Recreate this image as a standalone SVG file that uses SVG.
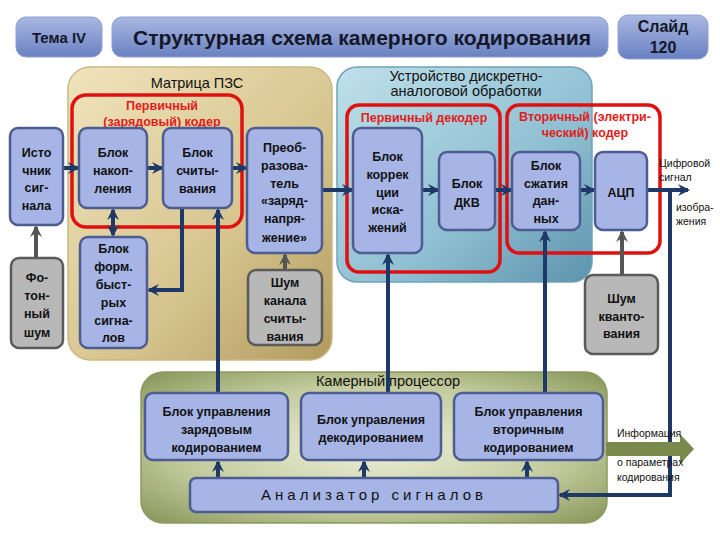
<svg xmlns="http://www.w3.org/2000/svg" width="720" height="540" viewBox="0 0 720 540">
<defs>
<linearGradient id="hdr" x1="0" y1="0" x2="0" y2="1"><stop offset="0" stop-color="#a9b8e2"/><stop offset="1" stop-color="#6a80c2"/></linearGradient>
<linearGradient id="beige" x1="0" y1="0" x2="1" y2="1"><stop offset="0" stop-color="#f0e4bc"/><stop offset="0.6" stop-color="#d6c48e"/><stop offset="1" stop-color="#b09a5e"/></linearGradient>
<linearGradient id="teal" x1="0" y1="0" x2="1" y2="1"><stop offset="0" stop-color="#bfe0ea"/><stop offset="0.6" stop-color="#8fbfd2"/><stop offset="1" stop-color="#5d93ad"/></linearGradient>
<radialGradient id="green" cx="0.5" cy="0.5" r="0.7"><stop offset="0" stop-color="#eef0da"/><stop offset="0.6" stop-color="#c2ca9c"/><stop offset="1" stop-color="#869558"/></radialGradient>
<marker id="ah" viewBox="0 0 12 12" markerWidth="12" markerHeight="12" refX="10" refY="6" orient="auto-start-reverse" markerUnits="userSpaceOnUse"><path d="M0,0 L12,6 L0,12 L4,6 z" fill="#1e3868"/></marker>
<marker id="ahg" viewBox="0 0 12 12" markerWidth="12" markerHeight="12" refX="10" refY="6" orient="auto" markerUnits="userSpaceOnUse"><path d="M0,0 L12,6 L0,12 L4,6 z" fill="#555"/></marker>
</defs>
<style>
.hb{fill:url(#hdr);stroke:#8fa0d0;stroke-width:1}
.ht{font-family:"Liberation Sans",Arial,sans-serif;font-weight:bold;fill:#141828;text-anchor:middle}
.nb{fill:#a6b5e5;stroke:#4d5d92;stroke-width:2.5}
.gb{fill:#b8b8b8;stroke:#5a5a5a;stroke-width:2.5}
.t{font-family:"Liberation Sans",Arial,sans-serif;font-weight:bold;font-size:12.5px;fill:#111;text-anchor:middle}
.rt{font-family:"Liberation Sans",Arial,sans-serif;font-weight:bold;font-size:12.5px;fill:#e02020;text-anchor:middle}
.gt{font-family:"Liberation Sans",Arial,sans-serif;font-size:14.5px;fill:#111;text-anchor:middle}
.st{font-family:"Liberation Sans",Arial,sans-serif;font-size:10.5px;fill:#111}
.red{fill:none;stroke:#e01010;stroke-width:3.5}
.c{fill:none;stroke:#1e3868;stroke-width:4;marker-end:url(#ah)}
.cg{fill:none;stroke:#555;stroke-width:4;marker-end:url(#ahg)}
</style>

<g id="header">
<rect class="hb" x="16" y="17" width="86" height="40" rx="10"/>
<text class="ht" x="59" y="43" font-size="15">Тема IV</text>
<rect class="hb" x="112" y="17" width="496" height="40" rx="10"/>
<text class="ht" x="362" y="45" font-size="20.5" textLength="458" lengthAdjust="spacingAndGlyphs">Структурная схема камерного кодирования</text>
<rect class="hb" x="618" y="15" width="90" height="44" rx="10"/>
<text class="ht" x="663" y="32" font-size="16">Слайд</text>
<text class="ht" x="663" y="53" font-size="16">120</text>
</g>

<g id="containers">
<rect x="68" y="67" width="264" height="293" rx="22" fill="url(#beige)" stroke="#c9b985" stroke-width="1.5"/>
<text class="gt" x="197" y="88">Матрица ПЗС</text>
<rect x="337" y="67" width="255" height="215" rx="20" fill="url(#teal)" stroke="#6fa3bb" stroke-width="1.5"/>
<text class="gt" x="466" y="81" font-size="14">Устройство дискретно-</text>
<text class="gt" x="466" y="96" font-size="14">аналоговой обработки</text>
<rect x="141" y="372" width="466" height="151" rx="22" fill="url(#green)" stroke="#8a9a60" stroke-width="1.5"/>
<text class="gt" x="388" y="386">Камерный  процессор</text>
</g>

<g id="red-groups">
<rect class="red" x="72" y="95" width="170" height="132" rx="14"/>
<text class="rt" x="162" y="110">Первичный</text>
<text class="rt" x="162" y="126">(зарядовый) кодер</text>
<rect class="red" x="347" y="105" width="153" height="167" rx="12"/>
<text class="rt" x="424" y="122">Первичный декодер</text>
<rect class="red" x="507" y="105" width="153" height="148" rx="12"/>
<text class="rt" x="585" y="121">Вторичный (электри-</text>
<text class="rt" x="585" y="137">ческий) кодер</text>
</g>

<g id="connectors">
<path class="c" d="M63,168 H78"/>
<path class="c" d="M147,168 H162"/>
<path class="c" d="M232,168 H246"/>
<path class="c" d="M113,210 V235" marker-start="url(#ah)"/>
<path class="cg" d="M36,258 V227"/>
<path class="c" d="M182,208 V290 H149"/>
<path class="c" d="M218,393 V210"/>
<path class="c" d="M322,190 H352"/>
<path class="c" d="M422,190 H438"/>
<path class="c" d="M495,190 H511"/>
<path class="c" d="M580,190 H594"/>
<path class="c" d="M647,190 H688"/>
<path class="c" d="M388,393 V255"/>
<path class="c" d="M545,393 V232"/>
<path class="cg" d="M622,275 V232"/>
<path class="cg" d="M285,270 V255"/>
<path class="c" d="M670,190 V495 H560"/>
<path class="c" d="M218,478 V462"/>
<path class="c" d="M364,478 V462"/>
<path class="c" d="M527,478 V462"/>
<polygon points="606,442 680,442 680,434 694,449 680,464 680,456 606,456" fill="#7a8a4c"/>
</g>

<g id="n-source"><rect class="nb" x="10" y="128" width="53" height="97" rx="8"/>
<text class="t" x="36.5" y="157">Исто</text><text class="t" x="36.5" y="175">чник</text><text class="t" x="36.5" y="192">сиг-</text><text class="t" x="36.5" y="210">нала</text></g>

<g id="n-photon"><rect class="gb" x="11" y="258" width="52" height="90" rx="8"/>
<text class="t" x="37" y="282">Фо-</text><text class="t" x="37" y="300">тон-</text><text class="t" x="37" y="318">ный</text><text class="t" x="37" y="337">шум</text></g>

<g id="n-accum"><rect class="nb" x="79" y="128" width="68" height="80" rx="8"/>
<text class="t" x="113" y="157">Блок</text><text class="t" x="113" y="175">накоп-</text><text class="t" x="113" y="193">ления</text></g>

<g id="n-read"><rect class="nb" x="163" y="128" width="69" height="80" rx="8"/>
<text class="t" x="197.5" y="157">Блок</text><text class="t" x="197.5" y="175">считы-</text><text class="t" x="197.5" y="193">вания</text></g>

<g id="n-form"><rect class="nb" x="80" y="237" width="67" height="111" rx="8"/>
<text class="t" x="113.5" y="253">Блок</text><text class="t" x="113.5" y="271">форм.</text><text class="t" x="113.5" y="289">быст-</text><text class="t" x="113.5" y="307">рых</text><text class="t" x="113.5" y="325">сигна-</text><text class="t" x="113.5" y="342">лов</text></g>

<g id="n-conv"><rect class="nb" x="247" y="128" width="75" height="125" rx="8"/>
<text class="t" x="284.5" y="152">Преоб-</text><text class="t" x="284.5" y="170">разова-</text><text class="t" x="284.5" y="188">тель</text><text class="t" x="284.5" y="205">«заряд-</text><text class="t" x="284.5" y="223">напря-</text><text class="t" x="284.5" y="242">жение»</text></g>

<g id="n-readnoise"><rect class="gb" x="248" y="270" width="74" height="75" rx="8"/>
<text class="t" x="285" y="287">Шум</text><text class="t" x="285" y="305">канала</text><text class="t" x="285" y="323">считы-</text><text class="t" x="285" y="341">вания</text></g>

<g id="n-corr"><rect class="nb" x="353" y="128" width="69" height="125" rx="8"/>
<text class="t" x="387.5" y="161">Блок</text><text class="t" x="387.5" y="179">коррек</text><text class="t" x="387.5" y="197">ции</text><text class="t" x="387.5" y="214">иска-</text><text class="t" x="387.5" y="232">жений</text></g>

<g id="n-dct"><rect class="nb" x="439" y="152" width="56" height="78" rx="8"/>
<text class="t" x="467" y="188">Блок</text><text class="t" x="467" y="207">ДКВ</text></g>

<g id="n-compress"><rect class="nb" x="512" y="152" width="68" height="78" rx="8"/>
<text class="t" x="546" y="170">Блок</text><text class="t" x="546" y="188">сжатия</text><text class="t" x="546" y="205">дан-</text><text class="t" x="546" y="223">ных</text></g>

<g id="n-adc"><rect class="nb" x="595" y="152" width="52" height="78" rx="8"/>
<text class="t" x="621" y="197">АЦП</text></g>

<g id="n-qnoise"><rect class="gb" x="585" y="275" width="73" height="79" rx="8"/>
<text class="t" x="621.5" y="303">Шум</text><text class="t" x="621.5" y="321">кванто-</text><text class="t" x="621.5" y="338">вания</text></g>

<g id="n-ctl1"><rect class="nb" x="145" y="393" width="143" height="67" rx="8"/>
<text class="t" x="216.5" y="416">Блок управления</text><text class="t" x="216.5" y="434">зарядовым</text><text class="t" x="216.5" y="452">кодированием</text></g>

<g id="n-ctl2"><rect class="nb" x="301" y="393" width="140" height="67" rx="8"/>
<text class="t" x="371" y="424">Блок управления</text><text class="t" x="371" y="442">декодированием</text></g>

<g id="n-ctl3"><rect class="nb" x="454" y="393" width="149" height="67" rx="8"/>
<text class="t" x="528.5" y="416">Блок управления</text><text class="t" x="528.5" y="434">вторичным</text><text class="t" x="528.5" y="452">кодированием</text></g>

<g id="n-analyzer"><rect class="nb" x="190" y="478" width="368" height="34" rx="6"/>
<text x="372" y="500" font-family="'Liberation Sans',Arial,sans-serif" font-size="15" fill="#111" text-anchor="middle" textLength="222" lengthAdjust="spacing">Анализатор сигналов</text></g>

<g id="labels">
<text class="st" x="659" y="167">Цифровой</text>
<text class="st" x="659" y="181">сигнал</text>
<text class="st" x="676" y="211">изобра-</text>
<text class="st" x="676" y="225">жения</text>
<text class="st" x="617" y="437">Информация</text>
<text class="st" x="617" y="466">о параметрах</text>
<text class="st" x="617" y="481">кодирования</text>
</g>
</svg>
